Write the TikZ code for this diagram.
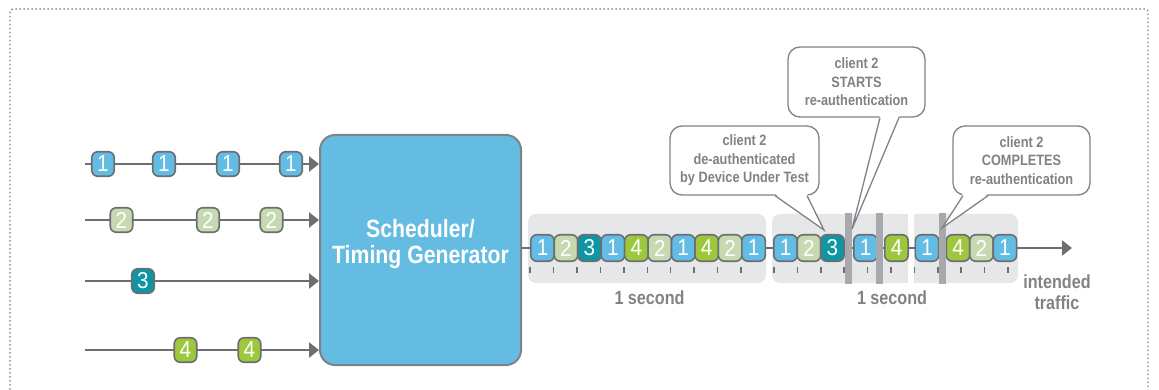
\documentclass[tikz,border=0pt]{standalone}
\usepackage{fontspec}
\setmainfont{Liberation Sans}
\newfontfamily\condfont{Liberation Sans}[FakeStretch=0.85]
\newfontfamily\digitfont{Liberation Sans}[FakeStretch=0.9]
\usetikzlibrary{arrows.meta,calc}

\definecolor{tokblue}{HTML}{62BCE3}
\definecolor{toksage}{HTML}{C6D9B1}
\definecolor{tokteal}{HTML}{0E96A3}
\definecolor{toklime}{HTML}{9DC83E}
\definecolor{boxblue}{HTML}{64BCE2}
\definecolor{linegray}{HTML}{6D6E71}
\definecolor{textgray}{HTML}{808285}
\definecolor{bggray}{HTML}{E6E7E8}
\definecolor{bargray}{HTML}{A7A9AC}
\definecolor{framegray}{HTML}{7F7F7F}

\begin{document}
\begin{tikzpicture}[x=1pt,y=-1pt,
  flow/.style={draw=linegray, line width=2.6pt, -{Triangle[length=10pt,width=15pt]}},
  tok/.style={rectangle, rounded corners=6pt, draw=linegray, line width=1.6pt,
    inner sep=0pt, minimum width=22.5pt, minimum height=24.5pt, text=white,
    font=\digitfont\fontsize{23}{23}\selectfont},
  seqtok/.style={tok, minimum width=23.45pt, minimum height=26.5pt, anchor=west},
  grp/.style={fill=bggray, rounded corners=8pt},
  tick/.style={draw=linegray, line width=1.5pt},
  bar/.style={fill=bargray},
  callout/.style={rectangle, rounded corners=12pt, draw=textgray, line width=1.3pt,
    fill=white, inner sep=0pt, align=center, text=textgray,
    font=\condfont\bfseries\fontsize{15}{18.5}\selectfont},
  tail/.style={draw=textgray, line width=1.3pt, line join=miter},
  caption/.style={text=textgray, align=center, inner sep=0pt,
    font=\condfont\bfseries\fontsize{19}{21}\selectfont},
  frame/.style={draw=framegray, line width=1.3pt, dash pattern=on 1.5pt off 2.5pt, rounded corners=3pt}
]
\useasboundingbox (0,0) rectangle (1159,390);
\clip (0,0) rectangle (1159,390);

% outer dotted frame
\draw[frame] (10,9) rectangle (1148,398);

% scheduler block
\node[rectangle, rounded corners=15pt, draw=textgray, line width=2pt, fill=boxblue,
  minimum width=201pt, minimum height=230pt, inner sep=0pt] (sched) at (420.5,250) {};
\node[text=white, align=center, inner sep=0pt,
  font=\condfont\bfseries\fontsize{25}{26}\selectfont] (schedtext) at (420.5,244)
  {Scheduler/\\Timing Generator};

% input streams
\coordinate (s1) at (85,164);
\coordinate (s2) at (85,220);
\coordinate (s3) at (85,281);
\coordinate (s4) at (85,350);
\foreach \s in {s1,s2,s3,s4}
  \draw[flow] (\s) -- (\s -| sched.west);

\foreach \x [count=\i] in {103,164,228,291}
  \node[tok, fill=tokblue] (ia\i) at (\x,164) {1};
\foreach \x [count=\i] in {121.5,208,271.5}
  \node[tok, fill=toksage] (ib\i) at (\x,220) {2};
\node[tok, fill=tokteal] (ic1) at (143,281) {3};
\foreach \x [count=\i] in {185.5,249.5}
  \node[tok, fill=toklime] (id\i) at (\x,350) {4};

% one-second windows
\fill[grp] (528,214) rectangle (766,283);
\fill[grp] (772,214) rectangle (908,283);
\fill[bggray] (860,214) rectangle (908,283);
\fill[grp] (914,214) rectangle (1018,283);
\fill[bggray] (914,214) rectangle (960,283);

% output stream
\coordinate (out) at (1072,248);
\draw[flow] (sched.east |- out) -- (out);

% time ticks
\foreach \k in {0,...,9}
  \draw[tick] (530+23.45*\k,267) -- (530+23.45*\k,273);
\foreach \k in {0,...,10}
  \draw[tick] (774+23.4*\k,267) -- (774+23.4*\k,273);

% scheduled frames
\foreach \x/\d/\c [count=\i] in {530/1/tokblue, 553.45/2/toksage, 576.9/3/tokteal,
    600.35/1/tokblue, 623.8/4/toklime, 647.25/2/toksage, 670.7/1/tokblue,
    694.15/4/toklime, 717.6/2/toksage, 741.05/1/tokblue}
  \node[seqtok, fill=\c] (qa\i) at (\x,248) {\d};
\foreach \x/\d/\c [count=\i] in {773/1/tokblue, 796.45/2/toksage, 819.9/3/tokteal,
    853/1/tokblue, 884/4/toklime, 914.5/1/tokblue, 945.5/4/toklime,
    968.95/2/toksage, 992.4/1/tokblue}
  \node[seqtok, fill=\c] (qb\i) at (\x,248) {\d};

% event markers
\fill[bar] (845,213) rectangle (852,284);
\fill[bar] (876,213) rectangle (883,284);
\fill[bar] (939,213) rectangle (945.5,284);

% captions
\node[caption] (sec1) at (649.5,298) {1 second};
\node[caption] (sec2) at (892,298) {1 second};
\node[caption] (intended) at (1057,292) {intended\\traffic};

% callouts
\node[callout, minimum width=149pt, minimum height=69pt] (c1) at (744.5,160.5)
  {client 2\\de-authenticated\\by Device Under Test};
\node[callout, minimum width=137pt, minimum height=70pt] (c2) at (856.5,82)
  {client 2\\STARTS\\re-authentication};
\node[callout, minimum width=137pt, minimum height=69pt] (c3) at (1021.5,160.5)
  {client 2\\COMPLETES\\re-authentication};

\coordinate (tip1) at (824,230);
\coordinate (tip2) at (852,229);
\coordinate (tip3) at (942,228);

\fill[white] ([xshift=30.5pt,yshift=2pt]c1.south) -- (tip1) -- ([xshift=62.5pt,yshift=2pt]c1.south) -- cycle;
\draw[tail] ([xshift=30.5pt]c1.south) -- (tip1) -- ([xshift=62.5pt]c1.south);

\fill[white] ([xshift=23.5pt,yshift=2pt]c2.south) -- (tip2) -- ([xshift=42.5pt,yshift=2pt]c2.south) -- cycle;
\draw[tail] ([xshift=23.5pt]c2.south) -- (tip2) -- ([xshift=42.5pt]c2.south);

\fill[white] ([xshift=-58.5pt,yshift=2pt]c3.south) -- (tip3) -- ([xshift=-33.5pt,yshift=2pt]c3.south) -- cycle;
\draw[tail] ([xshift=-58.5pt]c3.south) -- (tip3) -- ([xshift=-33.5pt]c3.south);
\end{tikzpicture}
\end{document}
